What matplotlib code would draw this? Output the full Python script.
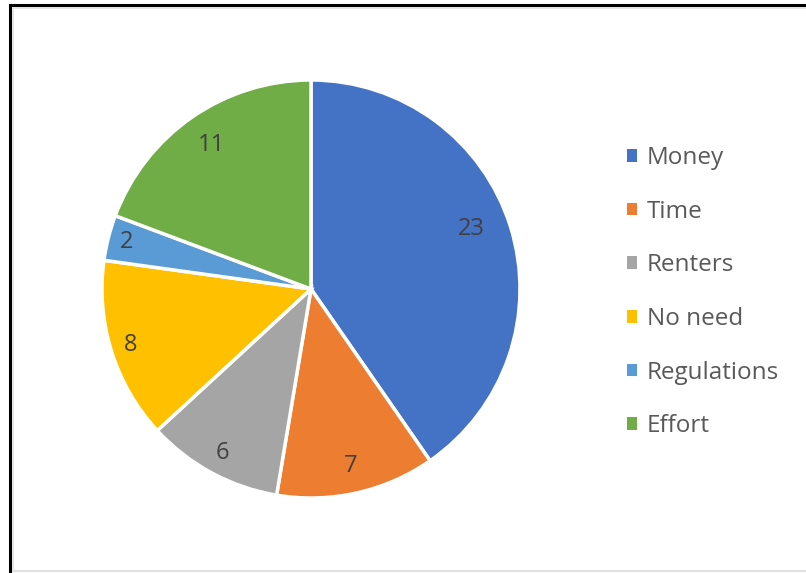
import numpy as np
import matplotlib.pyplot as plt
from matplotlib.patches import Patch
from matplotlib.lines import Line2D

# data
reasons = ['Money', 'Time', 'Renters', 'No need', 'Regulations', 'Effort']
counts = [23, 7, 6, 8, 2, 11]
colors = ['#4472C4', '#ED7D31', '#A5A5A5', '#FFC000', '#5B9BD5', '#70AD47']

W, H = 806, 573
fig = plt.figure(figsize=(W / 100, H / 100), dpi=100)

# pie, centre ~(311, 289) px, radius ~209 px
cx, cy, r = 311, 289, 209
ax = fig.add_axes([(cx - r) / W, (H - cy - r) / H, 2 * r / W, 2 * r / H])
wedges, texts = ax.pie(counts, colors=colors, labels=[str(c) for c in counts],
                       startangle=90, counterclock=False, labeldistance=0.85,
                       wedgeprops=dict(edgecolor='white', linewidth=2.5),
                       textprops=dict(fontsize=17, color='#404040', family='Open Sans'))

# excel-like label placement (distance from centre, fraction of radius)
label_dist = [0.82, 0.87, 0.89, 0.905, 0.91, 0.84]
label_shift = [3, 0, 0, 0, 0, 0]  # small angle nudge, degrees
for w, t, d, s in zip(wedges, texts, label_dist, label_shift):
    ang = np.deg2rad((w.theta1 + w.theta2) / 2 + s)
    t.set_position((d * np.cos(ang), d * np.sin(ang)))
    t.set_ha('center')
    t.set_va('center')
ax.set_xlim(-1.0, 1.0)
ax.set_ylim(-1.0, 1.0)
ax.set_aspect('equal')
ax.axis('off')

handles = [Patch(facecolor=c, edgecolor='none') for c in colors]
leg = fig.legend(handles, reasons, loc='upper left',
                 bbox_to_anchor=(615 / W, 1 - 134 / H), frameon=False,
                 handlelength=0.42, handleheight=0.42, handletextpad=0.4,
                 labelspacing=1.22, borderpad=0,
                 prop=dict(family='Open Sans', size=17.5))
for t in leg.get_texts():
    t.set_color('#595959')

# frame lines like the screenshot
def px_line(x0, y0, x1, y1, color, lw):
    fig.add_artist(Line2D([x0 / W, x1 / W], [1 - y0 / H, 1 - y1 / H],
                          transform=fig.transFigure, color=color, linewidth=lw))

px_line(10, 5, 10, 573, 'black', 2.2)
px_line(10, 5, 806, 5, 'black', 2.2)
px_line(13, 8, 13, 571, '#E0E0E0', 1.2)
px_line(13, 8, 806, 8, '#E0E0E0', 1.2)
px_line(13, 571, 806, 571, '#E0E0E0', 1.5)

fig.savefig('out.png', dpi=100)
